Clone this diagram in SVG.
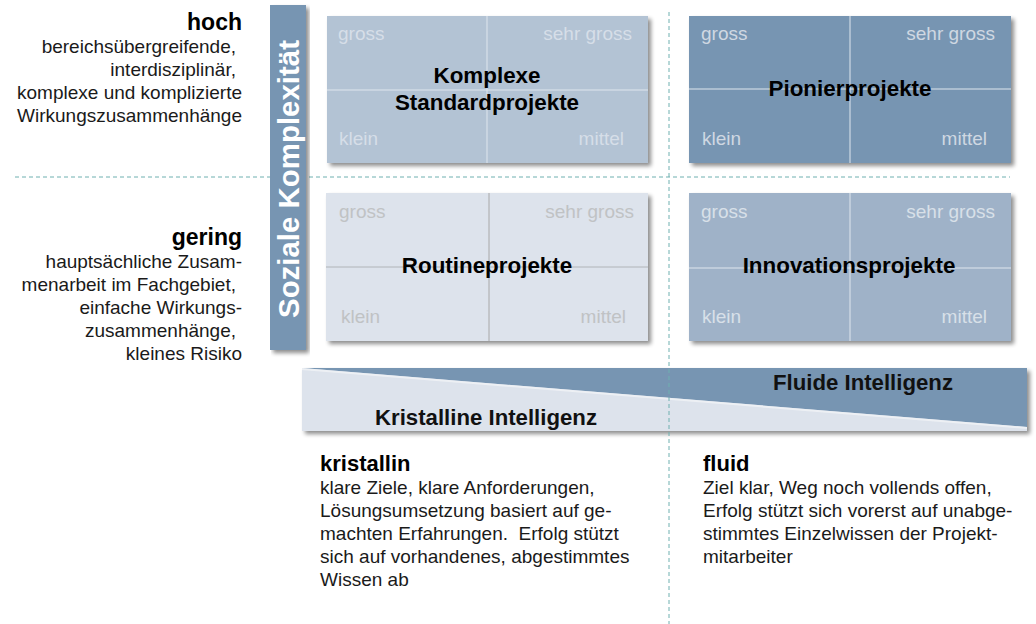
<svg xmlns="http://www.w3.org/2000/svg" width="1036" height="624" viewBox="0 0 1036 624">
<defs>
<filter id="sh" x="-5%" y="-5%" width="115%" height="120%">
<feGaussianBlur in="SourceAlpha" stdDeviation="2"/>
<feOffset dx="3" dy="3" result="o"/>
<feComponentTransfer><feFuncA type="linear" slope="0.45"/></feComponentTransfer>
<feMerge><feMergeNode/><feMergeNode in="SourceGraphic"/></feMerge>
</filter>
</defs>
<style>
text{font-family:"Liberation Sans",Arial,sans-serif;}
.side{font-size:19px;fill:#1a1a1a;text-anchor:end;}
.sidehead{font-size:23px;font-weight:bold;fill:#000;text-anchor:end;}
.head{font-size:22px;font-weight:bold;fill:#000;}
.body{font-size:19px;fill:#1a1a1a;}
.title{font-size:22.4px;font-weight:bold;fill:#000;text-anchor:middle;}
.lbl{font-size:19px;}
.dash{stroke:#6fb0b0;stroke-width:1;stroke-dasharray:4 3;fill:none;}
.narrow{font-family:"Liberation Sans Narrow","Liberation Sans",Arial,sans-serif;font-weight:bold;font-size:22px;fill:#111;}
</style>
<rect width="1036" height="624" fill="#fff"/>
<g id="guides">
<line class="dash" x1="15" y1="177" x2="1010" y2="177"/>
</g>
<g id="axis-y">
<rect x="270" y="5" width="36" height="345" fill="#7795b2" filter="url(#sh)"/>
<text transform="translate(298.5,179) rotate(-90)" text-anchor="middle" font-size="30" font-weight="bold" fill="#fff" textLength="278" lengthAdjust="spacingAndGlyphs">Soziale Komplexität</text>
</g>
<g id="text-hoch">
<text class="sidehead" x="242" y="30">hoch</text>
<text class="side" x="236" y="53">bereichsübergreifende,</text>
<text class="side" x="236" y="76">interdisziplinär,</text>
<text class="side" x="242" y="99">komplexe und komplizierte</text>
<text class="side" x="242" y="122">Wirkungszusammenhänge</text>
</g>
<g id="text-gering">
<text class="sidehead" x="242" y="245">gering</text>
<text class="side" x="242" y="268">hauptsächliche Zusam-</text>
<text class="side" x="236" y="291">menarbeit im Fachgebiet,</text>
<text class="side" x="242" y="314">einfache Wirkungs-</text>
<text class="side" x="236" y="337">zusammenhänge,</text>
<text class="side" x="242" y="360">kleines Risiko</text>
</g>
<g id="q-komplexe">
<rect x="327" y="16" width="321" height="147" fill="#b3c3d4" filter="url(#sh)"/>
<line x1="487" y1="16" x2="487" y2="163" stroke="#dfe6ee" stroke-width="1"/>
<line x1="327" y1="90" x2="648" y2="90" stroke="#dfe6ee" stroke-width="1"/>
<g class="lbl" fill="#d6dee8">
<text x="338" y="40">gross</text>
<text x="632" y="40" text-anchor="end">sehr gross</text>
<text x="339" y="145">klein</text>
<text x="624" y="145" text-anchor="end">mittel</text>
</g>
<text class="title" x="487" y="83">Komplexe</text>
<text class="title" x="487" y="110">Standardprojekte</text>
</g>
<g id="q-pionier">
<rect x="689" y="16" width="322" height="147" fill="#7795b2" filter="url(#sh)"/>
<line x1="850" y1="16" x2="850" y2="163" stroke="#dfe6ee" stroke-width="1"/>
<line x1="689" y1="89" x2="1011" y2="89" stroke="#dfe6ee" stroke-width="1"/>
<g class="lbl" fill="#cfd8e2">
<text x="701" y="40">gross</text>
<text x="995" y="40" text-anchor="end">sehr gross</text>
<text x="702" y="145">klein</text>
<text x="987" y="145" text-anchor="end">mittel</text>
</g>
<text class="title" x="850" y="96">Pionierprojekte</text>
</g>
<g id="q-routine">
<rect x="326" y="193" width="322" height="148" fill="#dde3ec" filter="url(#sh)"/>
<line x1="489" y1="193" x2="489" y2="341" stroke="#a8a8a8" stroke-width="1"/>
<line x1="326" y1="267" x2="648" y2="267" stroke="#b0b4b8" stroke-width="1"/>
<g class="lbl" fill="#c0c2c4">
<text x="339" y="218">gross</text>
<text x="634" y="218" text-anchor="end">sehr gross</text>
<text x="341" y="323">klein</text>
<text x="626" y="323" text-anchor="end">mittel</text>
</g>
<text class="title" x="487" y="273">Routineprojekte</text>
</g>
<g id="q-innovation">
<rect x="689" y="193" width="322" height="148" fill="#9fb2c8" filter="url(#sh)"/>
<line x1="850" y1="193" x2="850" y2="341" stroke="#dfe6ee" stroke-width="1"/>
<line x1="689" y1="268" x2="1011" y2="268" stroke="#dfe6ee" stroke-width="1"/>
<g class="lbl" fill="#d8e0e8">
<text x="701" y="218">gross</text>
<text x="995" y="218" text-anchor="end">sehr gross</text>
<text x="702" y="323">klein</text>
<text x="987" y="323" text-anchor="end">mittel</text>
</g>
<text class="title" x="849" y="273">Innovationsprojekte</text>
</g>
<g id="intelligenz-band">
<rect x="302" y="368" width="725" height="63" fill="#dde3ec" filter="url(#sh)"/>
<polygon points="302,368 1027,368 1027,427" fill="#7795b2"/>
<line x1="302" y1="369" x2="1027" y2="428" stroke="#f2f4f7" stroke-width="2" opacity="0.8"/>
<text class="narrow" x="773" y="390" textLength="180" lengthAdjust="spacingAndGlyphs">Fluide Intelligenz</text>
<text class="narrow" x="375" y="425" textLength="222" lengthAdjust="spacingAndGlyphs">Kristalline Intelligenz</text>
</g>
<g id="guide-v">
<line class="dash" x1="669" y1="12" x2="669" y2="624"/>
</g>
<g id="text-kristallin">
<text class="head" x="320" y="471">kristallin</text>
<text class="body" x="320" y="494">klare Ziele, klare Anforderungen,</text>
<text class="body" x="320" y="517">Lösungsumsetzung basiert auf ge-</text>
<text class="body" x="320" y="540" xml:space="preserve">machten Erfahrungen.  Erfolg stützt</text>
<text class="body" x="320" y="563">sich auf vorhandenes, abgestimmtes</text>
<text class="body" x="320" y="586">Wissen ab</text>
</g>
<g id="text-fluid">
<text class="head" x="703" y="471">fluid</text>
<text class="body" x="703" y="494">Ziel klar, Weg noch vollends offen,</text>
<text class="body" x="703" y="517">Erfolg stützt sich vorerst auf unabge-</text>
<text class="body" x="703" y="540">stimmtes Einzelwissen der Projekt-</text>
<text class="body" x="703" y="563">mitarbeiter</text>
</g>
</svg>
